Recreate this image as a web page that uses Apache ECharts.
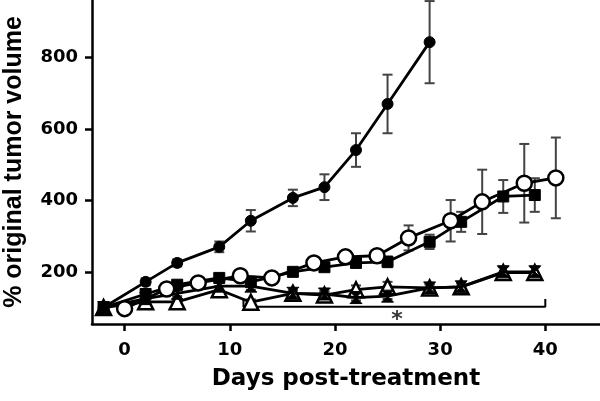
<!DOCTYPE html>
<html><head><meta charset="utf-8">
<script src="https://cdn.jsdelivr.net/npm/echarts@6/dist/echarts.min.js"></script>
<style>html,body{margin:0;padding:0;background:#fff}#c{width:600px;height:401px}</style>
</head><body><div id="c"></div>
<script>
// ---- data ----
const xTicks = [0, 10, 20, 30, 40];
const yTicks = [200, 400, 600, 800];

const dotDays  = [-2, 2, 5, 9, 12, 16, 19, 22, 25, 29];
const dotVals  = [100, 172, 225, 270, 343, 407, 437, 541, 670, 843];
const dotErr   = [8, 10, 10, 15, 30, 23, 36, 47, 82, 115];

const ringDays = [0, 4, 7, 11, 14, 18, 21, 24, 27, 31, 34, 38, 41];
const ringVals = [97, 152, 169, 189, 183, 225, 242, 245, 295, 343, 396, 448, 463];
const ringErr  = [5, 8, 8, 10, 8, 10, 10, 12, 35, 58, 90, 110, 113];

const sqDays   = [-2, 2, 5, 9, 12, 16, 19, 22, 25, 29, 32, 36, 39];
const sqVals   = [100, 138, 164, 183, 172, 200, 213, 225, 228, 284, 340, 411, 415];
const sqErr    = [6, 8, 10, 10, 12, 10, 10, 12, 15, 20, 28, 46, 47];

const triDays  = [-2, 2, 5, 9, 12, 16, 19, 22, 25, 29, 32, 36, 39];
const triVals  = [100, 116, 116, 150, 115, 140, 135, 150, 158, 155, 158, 198, 198];
const triErr   = [5, 6, 6, 10, 8, 8, 8, 12, 14, 10, 10, 15, 15];

const xDays    = [-2, 2, 5, 9, 12, 16, 19, 22, 25, 29, 32, 36, 39];
const xVals    = [100, 125, 140, 160, 160, 140, 138, 128, 132, 155, 158, 200, 200];
const xErr     = [5, 6, 8, 10, 10, 8, 8, 8, 8, 10, 10, 15, 15];

const bracketFrom = 11.3, bracketTo = 40, bracketY = 102, bracketTickY = 124;
const starDay = 25.9, starY = 64, starText = '*';

// ---- build ----
const pairs = (d, v) => d.map((x, i) => [x, v[i]]);
const errData = (d, v, e) => d.map((x, i) => [x, v[i] - e[i], v[i] + e[i]]);

function errSeries(d, v, e) {
  return {
    type: 'custom', clip: true, z: 1,
    data: errData(d, v, e),
    renderItem: function (params, api) {
      const x = api.value(0);
      const top = api.coord([x, api.value(2)]);
      const bot = api.coord([x, api.value(1)]);
      const w = 5;
      const st = { stroke: '#444', lineWidth: 2 };
      return { type: 'group', children: [
        { type: 'line', shape: { x1: top[0], y1: top[1], x2: bot[0], y2: bot[1] }, style: st },
        { type: 'line', shape: { x1: top[0] - w, y1: top[1], x2: top[0] + w, y2: top[1] }, style: st },
        { type: 'line', shape: { x1: bot[0] - w, y1: bot[1], x2: bot[0] + w, y2: bot[1] }, style: st }
      ]};
    }
  };
}
function lineSeries(d, v, symbol, size, filled, z) {
  return {
    type: 'line', data: pairs(d, v), symbol: symbol, symbolSize: size, showAllSymbol: true,
    lineStyle: { color: '#000', width: 2.8 }, z: z,
    itemStyle: { color: filled ? '#000' : '#fff', borderColor: '#000', borderWidth: filled ? 1 : 2.5 },
    emphasis: { disabled: true }, animation: false
  };
}

const tickFont = '"DejaVu Sans", sans-serif';
const yNameFont = '"Liberation Sans", Arial, sans-serif';
const option = {
  animation: false,
  grid: { left: 92, right: 0, top: 0, bottom: 77, outerBoundsMode: 'none', containLabel: false },
  xAxis: {
    type: 'value', min: -3.1, max: 45.2,
    axisLine: { show: true, onZero: false, lineStyle: { color: '#000', width: 2.5 } },
    axisTick: { show: true, length: 7, lineStyle: { color: '#000', width: 2.5 }, customValues: xTicks },
    axisLabel: { customValues: xTicks, margin: 17, color: '#000', fontWeight: 'bold', fontSize: 18, fontFamily: tickFont },
    splitLine: { show: false },
    name: 'Days post-treatment', nameLocation: 'middle', nameGap: 44,
    nameTextStyle: { color: '#000', fontWeight: 'bold', fontSize: 23, fontFamily: tickFont }
  },
  yAxis: {
    type: 'value', min: 54, max: 961,
    axisLine: { show: true, onZero: false, lineStyle: { color: '#000', width: 2.5 } },
    axisTick: { show: true, length: 7, lineStyle: { color: '#000', width: 2.5 }, customValues: yTicks },
    axisLabel: { customValues: yTicks, margin: 14, color: '#000', fontWeight: 'bold', fontSize: 18, fontFamily: tickFont },
    splitLine: { show: false },
    name: '% original tumor volume', nameLocation: 'middle', nameGap: 65,
    nameTextStyle: { color: '#000', fontWeight: 'bold', fontSize: 25, fontFamily: yNameFont }
  },
  series: [
    errSeries(dotDays, dotVals, dotErr),
    errSeries(ringDays, ringVals, ringErr),
    errSeries(sqDays, sqVals, sqErr),
    errSeries(triDays, triVals, triErr),
    errSeries(xDays, xVals, xErr),
    lineSeries(triDays, triVals, 'triangle', 15, false, 3),
    lineSeries(xDays, xVals, 'path://M0,0L10,0L5,5L10,10L0,10L5,5Z', 12, true, 4),
    lineSeries(sqDays, sqVals, 'rect', 11, true, 5),
    lineSeries(ringDays, ringVals, 'circle', 15, false, 6),
    lineSeries(dotDays, dotVals, 'circle', 11, true, 7),
    {
      type: 'line', symbol: 'none', z: 2, animation: false,
      data: [[bracketFrom, bracketTickY], [bracketFrom, bracketY], [bracketTo, bracketY], [bracketTo, bracketTickY]],
      lineStyle: { color: '#000', width: 2 }
    },
    {
      type: 'scatter', symbolSize: 0, z: 2, animation: false,
      data: [[starDay, starY]],
      label: { show: true, position: 'inside', formatter: starText, color: '#000', fontSize: 22, fontWeight: 'bold', fontFamily: tickFont }
    }
  ]
};
echarts.init(document.getElementById('c'), null, { renderer: 'canvas' }).setOption(option);
</script></body></html>
